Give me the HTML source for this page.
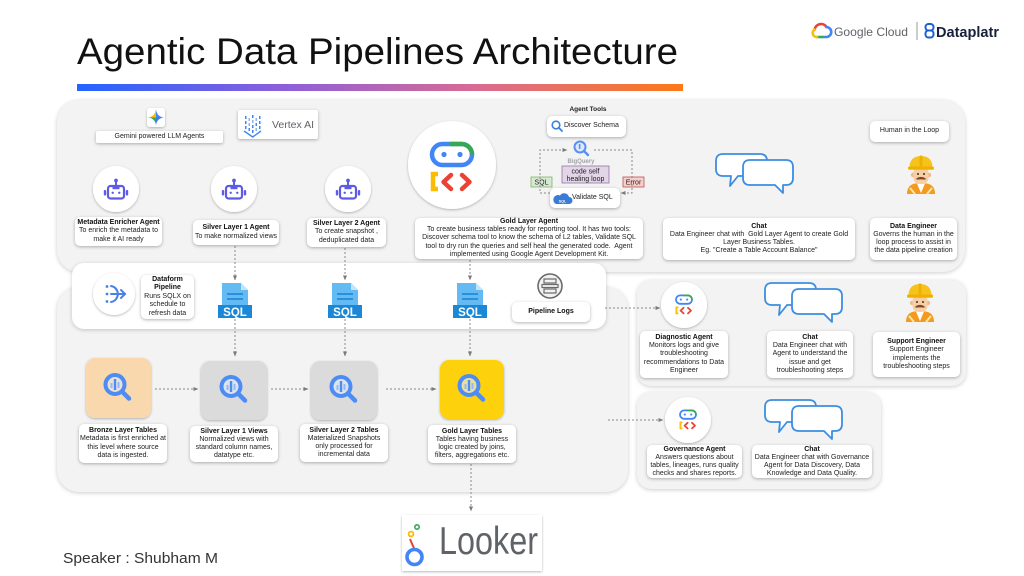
<!DOCTYPE html>
<html><head><meta charset="utf-8">
<style>
*{margin:0;padding:0;box-sizing:border-box}
body{width:1024px;height:576px;overflow:hidden;background:#fff;font-family:"Liberation Sans",Arial,sans-serif}
#c{position:relative;width:1024px;height:576px;overflow:hidden;background:#fff}
.pn{position:absolute;background:#f3f3f3;box-shadow:0 1px 4px rgba(0,0,0,.2)}
.lb{position:absolute;background:#fff;border-radius:5px;box-shadow:0 1px 3px rgba(0,0,0,.3);font-size:7px;line-height:8.2px;color:#222;text-align:center;display:flex;flex-direction:column;justify-content:center;white-space:nowrap}
.lb b{font-weight:bold;color:#111}
svg{position:absolute;left:0;top:0}
</style></head><body><div id="c">

<!-- panels -->
<div class="pn" style="left:57px;top:100px;width:908px;height:172px;border-radius:22px"></div>
<div class="pn" style="left:57px;top:287px;width:571px;height:205px;border-radius:22px"></div>
<div class="pn" style="left:72px;top:263px;width:534px;height:66px;border-radius:12px;background:#fff"></div>
<div class="pn" style="left:637px;top:280px;width:329px;height:106px;border-radius:14px"></div>
<div class="pn" style="left:637px;top:392px;width:244px;height:97px;border-radius:14px"></div>

<svg width="1024" height="576" viewBox="0 0 1024 576">
<defs>
<filter id="sh" x="-25%" y="-25%" width="150%" height="150%"><feDropShadow dx="0" dy="1" stdDeviation="1.3" flood-color="#000" flood-opacity="0.28"/></filter>
<linearGradient id="gb" x1="0" x2="1" y1="0" y2="0"><stop offset="0" stop-color="#2364ff"/><stop offset="0.33" stop-color="#8a5fdc"/><stop offset="0.66" stop-color="#d96b92"/><stop offset="1" stop-color="#fd7918"/></linearGradient>
<marker id="ar" viewBox="0 0 6 6" refX="5.5" refY="3" markerWidth="5" markerHeight="5" orient="auto" markerUnits="userSpaceOnUse"><path d="M0,0.5 L6,3 L0,5.5 Z" fill="#7a7a7a"/></marker>
<g id="robot">
<circle cx="0" cy="-9.5" r="1.9" fill="#5d5ae6"/>
<line x1="0" y1="-8" x2="0" y2="-4" stroke="#5d5ae6" stroke-width="2"/>
<rect x="-8" y="-4" width="16" height="12.5" rx="2.5" fill="none" stroke="#5d5ae6" stroke-width="2.2"/>
<rect x="-3.5" y="-4" width="7" height="3.2" fill="#5d5ae6"/>
<circle cx="-3.3" cy="2.8" r="1.2" fill="#5d5ae6"/>
<circle cx="3.3" cy="2.8" r="1.2" fill="#5d5ae6"/>
<rect x="-12.2" y="0" width="2.4" height="5.5" rx="1" fill="#5d5ae6"/>
<rect x="9.8" y="0" width="2.4" height="5.5" rx="1" fill="#5d5ae6"/>
</g>
<g id="adk">
<rect x="-20" y="-19" width="40" height="21" rx="10.5" fill="none" stroke="#4285f4" stroke-width="4.5"/>
<path d="M-2,-19 H9.5 A10.5,10.5 0 0 1 20,-8.5" fill="none" stroke="#34a853" stroke-width="4.5"/>
<circle cx="-8" cy="-8.5" r="2.6" fill="#4285f4"/>
<circle cx="8" cy="-8.5" r="2.6" fill="#4285f4"/>
<path d="M-14,11 H-19 V26 H-14" fill="none" stroke="#fbbc04" stroke-width="4.5"/>
<path d="M-1,12 L-8.5,19 L-1,26" fill="none" stroke="#ea4335" stroke-width="4.5" stroke-linecap="round" stroke-linejoin="round"/>
<path d="M10,12 L17.5,19 L10,26" fill="none" stroke="#ea4335" stroke-width="4.5" stroke-linecap="round" stroke-linejoin="round"/>
</g>
<g id="bub" fill="#fff" stroke="#3b8ee0" stroke-width="1.8" stroke-linejoin="round">
<path d="M7,1 H44 Q51,1 51,8 V16 Q51,23 44,23 H22 L14,33 L15,23 H7 Q0,23 0,16 V8 Q0,1 7,1 Z"/>
<path d="M34,7 H70 Q77,7 77,14 V25 Q77,32 70,32 H67 L67,40 L59,32 H34 Q27,32 27,25 V14 Q27,7 34,7 Z"/>
</g>
<g id="bq">
<circle cx="-4" cy="-3.5" r="9.5" fill="#dbe7fb" fill-opacity="0.6" stroke="#4d8cf5" stroke-width="4"/>
<rect x="-8.5" y="-5" width="2" height="5" fill="#93b8f7"/>
<rect x="-5.2" y="-9" width="2.4" height="11" fill="#4d8cf5"/>
<rect x="-1.5" y="-6" width="2" height="6" fill="#93b8f7"/>
<line x1="3.2" y1="3.7" x2="10" y2="10.5" stroke="#4d8cf5" stroke-width="4.5" stroke-linecap="round"/>
</g>
<g id="sqlf">
<path d="M-13,0 H6 L13,7 V23 H-13 Z" fill="#64baf2"/>
<path d="M6,0 V7 H13 Z" fill="#c3e5fb"/>
<line x1="-8" y1="11" x2="8" y2="11" stroke="#1c86d4" stroke-width="1.6"/>
<line x1="-8" y1="16" x2="8" y2="16" stroke="#1c86d4" stroke-width="1.6"/>
<rect x="-17" y="22" width="34" height="13" fill="#1a88d6"/>
</g>
<g id="eng">
<path d="M1,39 Q1,30 9,28.5 H21 Q29,30 29,39 Z" fill="#f39b1f"/>
<path d="M11,28.5 L15,38 L19,28.5 Z" fill="#fff"/>
<path d="M4,33 L9,39 M26,33 L21,39" stroke="#fde6a6" stroke-width="2"/>
<circle cx="7" cy="20" r="2.2" fill="#f0b98c"/>
<circle cx="23" cy="20" r="2.2" fill="#f0b98c"/>
<rect x="7.5" y="12" width="15" height="17" rx="6" fill="#f8cfa5"/>
<path d="M3.5,13 Q3.5,1 15,1 Q26.5,1 26.5,13 Z" fill="#f7c21c"/>
<rect x="2" y="11.5" width="26" height="3.2" rx="1.6" fill="#eeb100"/>
<rect x="13.5" y="0.5" width="3" height="11" rx="1" fill="#eeb100"/>
<circle cx="12" cy="19" r="1" fill="#333"/>
<circle cx="18" cy="19" r="1" fill="#333"/>
<path d="M10.5,24 Q15,21 19.5,24 Q15,23.5 10.5,24 Z" fill="#7b4a2b" stroke="#7b4a2b" stroke-width="1.2"/>
</g>
</defs>

<!-- title -->
<text x="77" y="64" font-family="Liberation Sans, Arial, sans-serif" font-size="37" fill="#111" textLength="601" lengthAdjust="spacingAndGlyphs">Agentic Data Pipelines Architecture</text>
<rect x="77" y="84" width="606" height="7" fill="url(#gb)"/>

<!-- logos -->
<g fill="none" stroke-width="2.6" stroke-linecap="round">
<path d="M814.6,29.6 A6.5,6.5 0 0 1 826.5,27" stroke="#ea4335"/>
<path d="M826.5,27 A5,5 0 0 1 826,37 H822" stroke="#4285f4"/>
<path d="M822,37 H817" stroke="#34a853"/>
<path d="M817,37 A4,4 0 0 1 814.6,29.6" stroke="#fbbc04"/>
</g>
<text x="834" y="36" font-family="Liberation Sans, Arial, sans-serif" font-size="12" fill="#5f6368" textLength="74" lengthAdjust="spacingAndGlyphs">Google Cloud</text>
<line x1="917" y1="22" x2="917" y2="40" stroke="#9a9a9a" stroke-width="1"/>
<rect x="925.5" y="24" width="8" height="6.5" rx="3" fill="none" stroke="#1d5fd6" stroke-width="2"/>
<rect x="925.5" y="30.5" width="8" height="7" rx="3" fill="none" stroke="#1d5fd6" stroke-width="2"/>
<text x="936" y="37" font-family="Liberation Sans, Arial, sans-serif" font-size="14.5" font-weight="bold" fill="#17213d" textLength="63" lengthAdjust="spacingAndGlyphs">Dataplatr</text>

<!-- gemini icon -->
<rect x="147" y="108" width="18" height="19" rx="3" fill="#fff" filter="url(#sh)"/>
<g transform="translate(156,117.5)">
<path d="M0,-8 Q0.8,-0.8 0,0 Q-0.8,-0.8 -8,0 Q-0.8,-0.8 0,-8 Z" fill="#ea4335"/>
<path d="M0,-8 Q0.8,-0.8 8,0 L0,0 Z" fill="#4285f4"/>
<path d="M8,0 Q0.8,0.8 0,8 L0,0 Z" fill="#3f7ee8"/>
<path d="M0,8 Q-0.8,0.8 -8,0 L0,0 Z" fill="#34a853"/>
<path d="M-8,0 Q-0.8,-0.8 0,-8 L0,0 Z" fill="#fbbc04"/>
</g>

<!-- circles -->
<g fill="#fff" filter="url(#sh)">
<circle cx="116" cy="189" r="23"/>
<circle cx="234" cy="189" r="23"/>
<circle cx="348" cy="189" r="23"/>
<circle cx="452" cy="165" r="44"/>
<circle cx="114" cy="294" r="21"/>
<circle cx="684" cy="305" r="23"/>
<circle cx="688" cy="420" r="23"/>
</g>
<use href="#robot" x="116" y="190"/>
<use href="#robot" x="234" y="190"/>
<use href="#robot" x="348" y="190"/>
<use href="#adk" transform="translate(452,163)"/>
<use href="#adk" transform="translate(684,303) scale(0.4)"/>
<use href="#adk" transform="translate(688,418) scale(0.4)"/>

<!-- dataform icon -->
<g stroke="#4a80e8" stroke-width="2" fill="none" stroke-linecap="round">
<path d="M111,286 Q117,287 118,294 Q117,301 111,302"/>
<path d="M111,294 H125"/>
<path d="M121,290 L125,294 L121,298"/>
</g>
<circle cx="107" cy="286.5" r="1.4" fill="#4a80e8"/>
<circle cx="107" cy="294" r="1.4" fill="#4a80e8"/>
<circle cx="107" cy="301.5" r="1.4" fill="#4a80e8"/>

<!-- sql files -->
<use href="#sqlf" x="235" y="283"/>
<use href="#sqlf" x="345" y="283"/>
<use href="#sqlf" x="470" y="283"/>
<g font-family="Liberation Sans, Arial, sans-serif" font-size="11.5" font-weight="bold" fill="#fff" text-anchor="middle">
<text x="235" y="316">SQL</text>
<text x="345" y="316">SQL</text>
<text x="470" y="316">SQL</text>
</g>

<!-- pipeline logs icon -->
<circle cx="550" cy="286" r="12" fill="#f2f2f2" stroke="#6a6a6a" stroke-width="1.6"/>
<rect x="544" y="279" width="12" height="4" fill="none" stroke="#6a6a6a" stroke-width="1.2"/>
<rect x="542" y="284.5" width="16" height="3" fill="none" stroke="#6a6a6a" stroke-width="1.2"/>
<rect x="544" y="289" width="12" height="4" fill="none" stroke="#6a6a6a" stroke-width="1.2"/>

<!-- lower boxes -->
<rect x="86" y="358" width="65" height="60" rx="9" fill="#f9d8ae" filter="url(#sh)"/>
<rect x="201" y="361" width="66" height="59" rx="9" fill="#dbdbdb" filter="url(#sh)"/>
<rect x="311" y="361" width="66" height="59" rx="9" fill="#dbdbdb" filter="url(#sh)"/>
<rect x="440" y="360" width="64" height="59" rx="9" fill="#fdd20a" filter="url(#sh)"/>
<use href="#bq" x="119" y="388"/>
<use href="#bq" x="235" y="390"/>
<use href="#bq" x="345" y="390"/>
<use href="#bq" x="473" y="389"/>

<!-- chat bubbles & engineers -->
<use href="#bub" x="716" y="153"/>
<use href="#bub" x="765" y="282"/>
<use href="#bub" x="765" y="399"/>
<use href="#eng" x="906" y="155"/>
<use href="#eng" x="905" y="283"/>

<!-- agent tools -->
<text x="588" y="111" font-family="Liberation Sans, Arial, sans-serif" font-size="6.5" font-weight="bold" fill="#222" text-anchor="middle">Agent Tools</text>
<circle cx="580" cy="147" r="5.5" fill="#dde8fb" stroke="#5a8ff0" stroke-width="2"/>
<rect x="578.8" y="144" width="1.6" height="5" fill="#5a8ff0"/>
<line x1="584" y1="151" x2="588" y2="155" stroke="#5a8ff0" stroke-width="2.4" stroke-linecap="round"/>
<text x="581" y="163" font-family="Liberation Sans, Arial, sans-serif" font-size="6" font-weight="bold" fill="#a0a4a8" text-anchor="middle">BigQuery</text>
<rect x="562" y="166" width="47" height="17" fill="#e1d5e7" stroke="#9673a6" stroke-width="0.8"/>
<text x="585.5" y="173.5" font-family="Liberation Sans, Arial, sans-serif" font-size="7" fill="#222" text-anchor="middle">code self</text>
<text x="585.5" y="181" font-family="Liberation Sans, Arial, sans-serif" font-size="7" fill="#222" text-anchor="middle">healing loop</text>
<rect x="531" y="177" width="21" height="10" fill="#d5e8d4" stroke="#82b366" stroke-width="0.8"/>
<text x="541.5" y="184.5" font-family="Liberation Sans, Arial, sans-serif" font-size="7" fill="#222" text-anchor="middle">SQL</text>
<rect x="623" y="177" width="21" height="10" fill="#f8cecc" stroke="#b85450" stroke-width="0.8"/>
<text x="633.5" y="184.5" font-family="Liberation Sans, Arial, sans-serif" font-size="7" fill="#222" text-anchor="middle">Error</text>

<!-- connectors -->
<g fill="none" stroke="#8a8a8a" stroke-width="1" stroke-dasharray="2 2" marker-end="url(#ar)">
<path d="M550,193 H540 V150 H567"/>
<path d="M594,150 H632 V193 H621"/>
<path d="M235,246 V280"/>
<path d="M235,319 V356"/>
<path d="M345,248 V280"/>
<path d="M345,319 V356"/>
<path d="M470,260 V280"/>
<path d="M470,319 V356"/>
<path d="M155,389 H198"/>
<path d="M271,389 H308"/>
<path d="M386,389 H436"/>
<path d="M471,464 V511"/>
<path d="M605,308 H660"/>
<path d="M608,420 H663"/>
</g>

<!-- looker -->
<rect x="402" y="515" width="140" height="56" rx="1" fill="#fff" filter="url(#sh)"/>
<circle cx="414.5" cy="557" r="7.5" fill="none" stroke="#4285f4" stroke-width="3.6"/>
<circle cx="417" cy="527" r="2.2" fill="none" stroke="#34a853" stroke-width="1.6"/>
<circle cx="411" cy="534" r="2.4" fill="none" stroke="#fbbc04" stroke-width="1.8"/>
<path d="M410,539 Q412,544 414,548" fill="none" stroke="#ea4335" stroke-width="2"/>
<text x="439" y="554" font-family="Liberation Sans, Arial, sans-serif" font-size="39" fill="#5f6368" textLength="99" lengthAdjust="spacingAndGlyphs">Looker</text>

<!-- speaker -->
<text x="63" y="563" font-family="Liberation Sans, Arial, sans-serif" font-size="15" fill="#333" textLength="155" lengthAdjust="spacingAndGlyphs">Speaker : Shubham M</text>
</svg>

<!-- labels -->
<div class="lb" style="left:96px;top:131px;width:127px;height:12px;border-radius:2px"><span>Gemini powered LLM Agents</span></div>
<div class="lb" style="left:238px;top:110px;width:80px;height:29px;border-radius:2px;text-align:left;padding-left:34px;font-size:10.5px;line-height:12px;color:#5f6368"><span>Vertex AI</span></div>
<div class="lb" style="left:75px;top:217px;width:87px;height:29px"><b>Metadata Enricher Agent</b><span>To enrich the metadata to</span><span>make it AI ready</span></div>
<div class="lb" style="left:193px;top:220px;width:86px;height:25px"><b>Silver Layer 1 Agent</b><span>To make normalized views</span></div>
<div class="lb" style="left:307px;top:218px;width:79px;height:29px"><b>Silver Layer 2 Agent</b><span>To create snapshot ,</span><span>deduplicated data</span></div>
<div class="lb" style="left:415px;top:218px;width:228px;height:41px"><b>Gold Layer Agent</b><span>To create business tables ready for reporting tool. It has two tools:</span><span>Discover schema tool to know the schema of L2 tables, Validate SQL</span><span>tool to dry run the queries and self heal the generated code.&nbsp; Agent</span><span>implemented using Google Agent Development Kit.</span></div>
<div class="lb" style="left:547px;top:116px;width:79px;height:21px;text-align:left;padding-left:17px"><span>Discover Schema</span></div>
<div class="lb" style="left:550px;top:188px;width:70px;height:20px;text-align:left;padding-left:22px"><span>Validate SQL</span></div>
<div class="lb" style="left:663px;top:218px;width:192px;height:42px"><b>Chat</b><span>Data Engineer chat with&nbsp; Gold Layer Agent to create Gold</span><span>Layer Business Tables.</span><span>Eg. "Create a Table Account Balance"</span></div>
<div class="lb" style="left:870px;top:121px;width:79px;height:21px"><span>Human in the Loop</span></div>
<div class="lb" style="left:870px;top:218px;width:87px;height:42px"><b>Data Engineer</b><span>Governs the human in the</span><span>loop process to assist in</span><span>the data pipeline creation</span></div>
<div class="lb" style="left:141px;top:275px;width:53px;height:44px;line-height:8.6px"><b>Dataform</b><b>Pipeline</b><span>Runs SQLX on</span><span>schedule to</span><span>refresh data</span></div>
<div class="lb" style="left:512px;top:302px;width:78px;height:20px"><b>Pipeline Logs</b></div>
<div class="lb" style="left:79px;top:424px;width:88px;height:39px"><b>Bronze Layer Tables</b><span>Metadata is first enriched at</span><span>this level where source</span><span>data is ingested.</span></div>
<div class="lb" style="left:190px;top:426px;width:88px;height:36px"><b>Silver Layer 1 Views</b><span>Normalized views with</span><span>standard column names,</span><span>datatype etc.</span></div>
<div class="lb" style="left:300px;top:424px;width:88px;height:38px"><b>Silver Layer 2 Tables</b><span>Materialized Snapshots</span><span>only processed for</span><span>incremental data</span></div>
<div class="lb" style="left:428px;top:425px;width:88px;height:38px"><b>Gold Layer Tables</b><span>Tables having business</span><span>logic created by joins,</span><span>filters, aggregations etc.</span></div>
<div class="lb" style="left:640px;top:331px;width:88px;height:47px"><b>Diagnostic Agent</b><span>Monitors logs and give</span><span>troubleshooting</span><span>recommendations to Data</span><span>Engineer</span></div>
<div class="lb" style="left:767px;top:331px;width:86px;height:47px"><b>Chat</b><span>Data Engineer chat with</span><span>Agent to understand the</span><span>issue and get</span><span>troubleshooting steps</span></div>
<div class="lb" style="left:873px;top:332px;width:87px;height:45px"><b>Support Engineer</b><span>Support Engineer</span><span>implements the</span><span>troubleshooting steps</span></div>
<div class="lb" style="left:647px;top:445px;width:95px;height:33px;line-height:8px"><b>Governance Agent</b><span>Answers questions about</span><span>tables, lineages, runs quality</span><span>checks and shares reports.</span></div>
<div class="lb" style="left:752px;top:445px;width:120px;height:33px;line-height:8px"><b>Chat</b><span>Data Engineer chat with Governance</span><span>Agent for Data Discovery, Data</span><span>Knowledge and Data Quality.</span></div>

<!-- in-box icons on top -->
<svg width="1024" height="576" viewBox="0 0 1024 576">
<g fill="#4285f4">
<rect x="245" y="116" width="1.5" height="3"/><rect x="245" y="121" width="1.5" height="3"/><rect x="245" y="126" width="1.5" height="3"/>
<rect x="248.5" y="118" width="1.5" height="3" fill="#8ab4f8"/><rect x="248.5" y="123" width="1.5" height="3" fill="#8ab4f8"/><rect x="248.5" y="128" width="1.5" height="3"/>
<rect x="252" y="115" width="1.5" height="3"/><rect x="252" y="120" width="1.5" height="3" fill="#8ab4f8"/><rect x="252" y="125" width="1.5" height="3"/><rect x="252" y="130" width="1.5" height="3"/>
<rect x="255.5" y="118" width="1.5" height="3" fill="#8ab4f8"/><rect x="255.5" y="123" width="1.5" height="3"/><rect x="255.5" y="128" width="1.5" height="3" fill="#8ab4f8"/>
<rect x="259" y="116" width="1.5" height="3"/><rect x="259" y="121" width="1.5" height="3"/><rect x="259" y="126" width="1.5" height="3"/>
</g>
<path d="M244,131 L252.7,137 L261,131" fill="none" stroke="#4285f4" stroke-width="1.4"/>
<circle cx="556" cy="125" r="3.8" fill="none" stroke="#3b82e0" stroke-width="1.6"/>
<line x1="558.8" y1="127.8" x2="562" y2="131" stroke="#3b82e0" stroke-width="1.8" stroke-linecap="round"/>
<path d="M556,204 H569 A3.5,3.5 0 0 0 569,197 A5,5 0 0 0 560,195.5 A4,4 0 0 0 556,204 Z" fill="#3a7bd5"/>
<text x="562.5" y="202.5" font-family="Liberation Sans, Arial, sans-serif" font-size="3.6" font-weight="bold" fill="#fff" text-anchor="middle">SQL</text>
</svg>

</div></body></html>
